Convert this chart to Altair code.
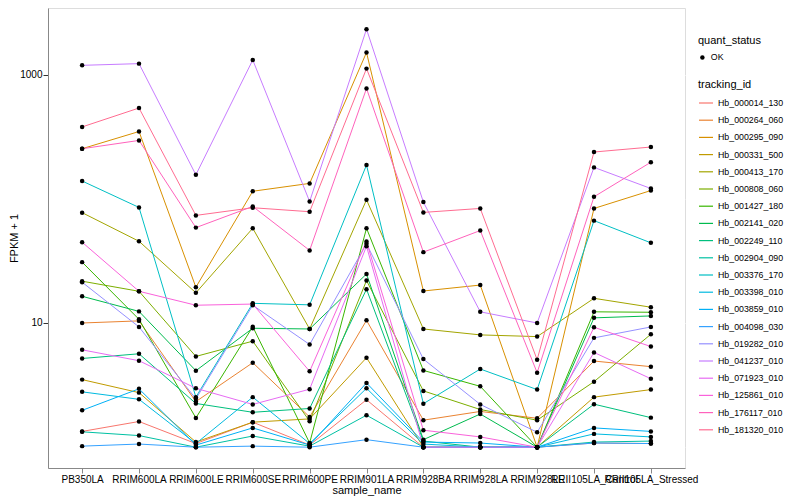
import altair as alt
import pandas as pd

samples = ["PB350LA", "RRIM600LA", "RRIM600LE", "RRIM600SE", "RRIM600PE", "RRIM901LA",
           "RRIM928BA", "RRIM928LA", "RRIM928LE", "RRII105LA_Control", "RRII105LA_Stressed"]

tracking_ids = ["Hb_000014_130", "Hb_000264_060", "Hb_000295_090", "Hb_000331_500",
                "Hb_000413_170", "Hb_000808_060", "Hb_001427_180", "Hb_002141_020",
                "Hb_002249_110", "Hb_002904_090", "Hb_003376_170", "Hb_003398_010",
                "Hb_003859_010", "Hb_004098_030", "Hb_019282_010", "Hb_041237_010",
                "Hb_071923_010", "Hb_125861_010", "Hb_176117_010", "Hb_181320_010"]

hue_colors = ["#F8766D", "#EA8331", "#D89000", "#C09B00", "#A3A500", "#7CAE00", "#39B600",
              "#00BB4E", "#00BF7D", "#00C1A3", "#00BFC4", "#00BAE0", "#00B0F6", "#35A2FF",
              "#9590FF", "#C77CFF", "#E76BF3", "#FA62DB", "#FF62BC", "#FF6C91"]

# FPKM + 1 per sample, in the order of `samples`
s000014_130 = [1.34, 1.61, 1.07, 1.59, 1.04, 2.41, 1.0, 1.0, 1.0, 1.08, 1.07]
s000264_060 = [10.0, 10.4, 2.33, 4.79, 1.75, 10.5, 1.65, 1.94, 1.71, 4.94, 4.45]
s000295_090 = [253, 348, 19.4, 115, 133, 1507, 18.1, 20.2, 1.0, 83.6, 116.5]
s000331_500 = [3.5, 2.75, 1.10, 1.59, 1.69, 5.25, 1.0, 1.0, 1.0, 2.53, 2.91]
s000413_170 = [77.3, 45.5, 17.5, 57.9, 8.95, 98.2, 8.95, 8.02, 7.77, 15.8, 13.4]
s000808_060 = [21.7, 18.0, 5.38, 7.14, 1.62, 21.96, 2.84, 2.01, 1.65, 3.37, 8.12]
s001427_180 = [30.9, 10.7, 1.72, 9.34, 1.08, 57.9, 4.15, 3.09, 1.0, 12.3, 12.2]
s002141_020 = [16.4, 12.4, 4.13, 9.07, 8.95, 24.8, 1.15, 1.85, 1.0, 11.0, 11.4]
s002249_110 = [5.18, 5.65, 2.25, 1.91, 2.05, 18.7, 1.12, 1.0, 1.0, 2.22, 1.73]
s002904_090 = [1.33, 1.24, 1.0, 1.23, 1.02, 1.81, 1.0, 1.0, 1.0, 1.10, 1.12]
s003376_170 = [139, 85.2, 2.53, 14.4, 14.0, 187, 2.24, 4.26, 2.91, 66.7, 44.2]
s003398_010 = [2.79, 2.43, 1.07, 2.53, 1.07, 2.98, 1.06, 1.0, 1.0, 1.28, 1.21]
s003859_010 = [1.98, 2.95, 1.04, 1.43, 1.04, 3.29, 1.10, 1.08, 1.0, 1.43, 1.34]
s004098_030 = [1.02, 1.06, 1.0, 1.02, 1.0, 1.15, 1.0, 1.0, 1.0, 1.08, 1.07]
s019282_010 = [21.3, 9.29, 2.45, 13.9, 6.71, 43.4, 5.12, 2.21, 1.32, 7.59, 9.29]
s041237_010 = [1187, 1225, 156, 1311, 95.1, 2320, 94.1, 12.3, 10.0, 179, 121]
s071923_010 = [6.08, 4.97, 2.98, 2.21, 2.93, 41.5, 1.0, 1.0, 1.0, 5.79, 3.56]
s125861_010 = [44.7, 18.0, 13.9, 14.2, 4.08, 45.3, 1.37, 1.21, 1.0, 9.24, 6.46]
s176117_010 = [253, 295, 58.6, 86.8, 38.4, 773, 37.2, 55.5, 3.98, 103.8, 197]
s181320_010 = [379, 538, 73.5, 84.7, 78.7, 1117, 77.7, 83.6, 5.06, 238, 261]

series = [s000014_130, s000264_060, s000295_090, s000331_500, s000413_170, s000808_060,
          s001427_180, s002141_020, s002249_110, s002904_090, s003376_170, s003398_010,
          s003859_010, s004098_030, s019282_010, s041237_010, s071923_010, s125861_010,
          s176117_010, s181320_010]

rows = []
for tid, vals in zip(tracking_ids, series):
    for s, v in zip(samples, vals):
        rows.append({"sample_name": s, "tracking_id": tid, "fpkm": v, "quant_status": "OK"})
df = pd.DataFrame(rows)

FONT = "Liberation Sans"
major = "datum.value == 10 || datum.value == 1000"

x_enc = alt.X("sample_name:N", sort=samples,
              scale=alt.Scale(type="point", padding=0.6),
              axis=alt.Axis(title="sample_name", labelAngle=0, labelOverlap=False,
                            labelBound=False, labelPadding=1.5, titlePadding=0,
                            titleFontWeight="normal", titleFont=FONT, titleFontSize=11,
                            titleColor="black",
                            gridColor="white", gridWidth=1.1))
y_enc = alt.Y("fpkm:Q",
              scale=alt.Scale(type="log", domain=[0.68, 3436], nice=False, zero=False),
              axis=alt.Axis(title="FPKM + 1", values=[1, 10, 100, 1000],
                            labelExpr="datum.value == 10 ? '10' : (datum.value == 1000 ? '1000' : '')",
                            gridColor="white",
                            gridWidth={"condition": {"test": major, "value": 1.1}, "value": 0.55},
                            tickColor={"condition": {"test": major, "value": "#333333"},
                                       "value": "rgba(0,0,0,0)"},
                            titleFontWeight="normal", titleFont=FONT, titleFontSize=11,
                            titleColor="black",
                            labelPadding=1, titlePadding=0))

lines = alt.Chart(df).mark_line(strokeWidth=1).encode(
    x=x_enc, y=y_enc,
    color=alt.Color("tracking_id:N",
                    scale=alt.Scale(domain=tracking_ids, range=hue_colors),
                    legend=alt.Legend(title="tracking_id", orient="none", legendX=650, legendY=71,
                                      symbolType="stroke", symbolSize=196, symbolStrokeWidth=1.2,
                                      labelFontSize=8.8, titleFontSize=11, rowPadding=4.2,
                                      titlePadding=5, labelFont=FONT, titleFont=FONT,
                                      titleFontWeight="normal", labelColor="black",
                                      titleColor="black")),
    detail="tracking_id:N",
)

points = alt.Chart(df).mark_point(filled=True, size=20, opacity=1, color="black").encode(
    x=x_enc, y=y_enc,
    shape=alt.Shape("quant_status:N", scale=alt.Scale(domain=["OK"], range=["circle"]),
                    legend=alt.Legend(title="quant_status", orient="none", legendX=650, legendY=27,
                                      symbolFillColor="black", symbolStrokeColor="black",
                                      symbolSize=20, labelFontSize=8.8, titleFontSize=11,
                                      titlePadding=7, labelFont=FONT, titleFont=FONT,
                                      titleFontWeight="normal", labelColor="black",
                                      titleColor="black")),
)

chart = alt.layer(lines, points).properties(
    width=637, height=460,
    padding={"left": 40, "top": 0, "right": 100, "bottom": 34},
    autosize=alt.AutoSizeParams(type="none"),
).configure_view(
    fill="#EBEBEB", stroke=None
).configure_axis(
    domain=False, labelFont=FONT, titleFont=FONT, labelFontSize=8.8, titleFontSize=11,
    labelColor="#4D4D4D", titleColor="black", titleFontWeight="normal",
    tickSize=3.7, tickWidth=1, tickColor="#333333"
).configure(background="white")

chart.save("out.html", embed_options={"renderer": "svg", "actions": False})
